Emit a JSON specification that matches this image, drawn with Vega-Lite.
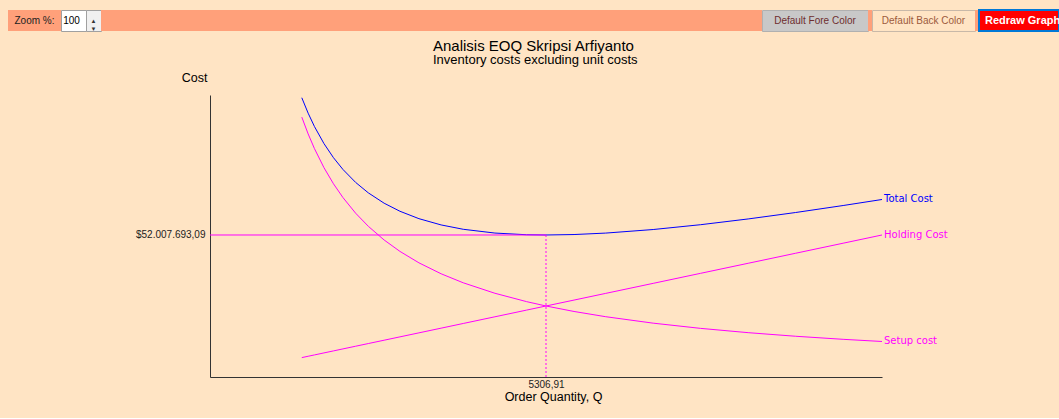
{
  "$schema": "https://vega.github.io/schema/vega-lite/v6.json",
  "background": "#FFE4C4",
  "padding": {"left": 8, "top": 9, "right": 0, "bottom": 15},
  "spacing": 7,
  "config": {
    "font": "Liberation Sans",
    "view": {"stroke": null},
    "locale": {"number": {"decimal": ",", "thousands": ".", "grouping": [3], "currency": ["$", ""]}}
  },
  "datasets": {
    "lines": [
      {"q": 1450, "Total Cost": 102277414, "Holding Cost": 7105000, "Setup cost": 95172414},
      {"q": 1550, "Total Cost": 96627258, "Holding Cost": 7595000, "Setup cost": 89032258},
      {"q": 1650, "Total Cost": 91721364, "Holding Cost": 8085000, "Setup cost": 83636364},
      {"q": 1800, "Total Cost": 85486667, "Holding Cost": 8820000, "Setup cost": 76666667},
      {"q": 1950, "Total Cost": 80324231, "Holding Cost": 9555000, "Setup cost": 70769231},
      {"q": 2100, "Total Cost": 76004286, "Holding Cost": 10290000, "Setup cost": 65714286},
      {"q": 2300, "Total Cost": 71270000, "Holding Cost": 11270000, "Setup cost": 60000000},
      {"q": 2500, "Total Cost": 67450000, "Holding Cost": 12250000, "Setup cost": 55200000},
      {"q": 2750, "Total Cost": 63656818, "Holding Cost": 13475000, "Setup cost": 50181818},
      {"q": 3000, "Total Cost": 60700000, "Holding Cost": 14700000, "Setup cost": 46000000},
      {"q": 3300, "Total Cost": 57988182, "Holding Cost": 16170000, "Setup cost": 41818182},
      {"q": 3650, "Total Cost": 55693219, "Holding Cost": 17885000, "Setup cost": 37808219},
      {"q": 4000, "Total Cost": 54100000, "Holding Cost": 19600000, "Setup cost": 34500000},
      {"q": 4500, "Total Cost": 52716667, "Holding Cost": 22050000, "Setup cost": 30666667},
      {"q": 5000, "Total Cost": 52100000, "Holding Cost": 24500000, "Setup cost": 27600000},
      {"q": 5306.91, "Total Cost": 52007693, "Holding Cost": 26003847, "Setup cost": 26003846},
      {"q": 5750, "Total Cost": 52175000, "Holding Cost": 28175000, "Setup cost": 24000000},
      {"q": 6250, "Total Cost": 52705000, "Holding Cost": 30625000, "Setup cost": 22080000},
      {"q": 7000, "Total Cost": 54014286, "Holding Cost": 34300000, "Setup cost": 19714286},
      {"q": 7750, "Total Cost": 55781452, "Holding Cost": 37975000, "Setup cost": 17806452},
      {"q": 8500, "Total Cost": 57885294, "Holding Cost": 41650000, "Setup cost": 16235294},
      {"q": 9250, "Total Cost": 60243919, "Holding Cost": 45325000, "Setup cost": 14918919},
      {"q": 10000, "Total Cost": 62800000, "Holding Cost": 49000000, "Setup cost": 13800000},
      {"q": 10613.82, "Total Cost": 65009634, "Holding Cost": 52007718, "Setup cost": 13001916}
    ],
    "eoq": [{"q": 5306.91, "cost": 52007693.09}]
  },
  "vconcat": [
    {
      "spacing": 0,
      "bounds": "flush",
      "hconcat": [
        {"width": 53, "height": 21, "view": {"fill": "#FFA07A", "stroke": null},
         "data": {"values": [{"label": "Zoom %:"}]},
         "mark": {"type": "text", "fontSize": 10, "color": "#222222"},
         "encoding": {"text": {"field": "label"}}},
        {"width": 25, "height": 21, "view": {"fill": "#FFFFFF", "stroke": "#A0A0A0"},
         "data": {"values": [{"label": "100"}]},
         "mark": {"type": "text", "fontSize": 10, "color": "#000000", "dx": -2},
         "encoding": {"text": {"field": "label"}}},
        {"width": 15, "height": 21, "view": {"fill": "#F0F0F0", "stroke": "#A0A0A0"},
         "data": {"values": [{"label": "▲\n▼"}]},
         "mark": {"type": "text", "fontSize": 6, "lineBreak": "\n", "lineHeight": 8, "color": "#333333"},
         "encoding": {"text": {"field": "label"}}},
        {"width": 661, "height": 21, "view": {"fill": "#FFA07A", "stroke": null},
         "data": {"values": [{"label": ""}]},
         "mark": {"type": "text"},
         "encoding": {"text": {"field": "label"}}},
        {"width": 106, "height": 21, "view": {"fill": "#C8C8C8", "stroke": "#B0B0B0"},
         "data": {"values": [{"label": "Default Fore Color"}]},
         "mark": {"type": "text", "fontSize": 10, "color": "#6E2E2E"},
         "encoding": {"text": {"field": "label"}}},
        {"width": 4, "height": 21, "view": {"fill": "#FFA07A", "stroke": null},
         "data": {"values": [{"label": ""}]},
         "mark": {"type": "text"},
         "encoding": {"text": {"field": "label"}}},
        {"width": 103, "height": 21, "view": {"fill": "#FFE4C4", "stroke": "#C8B8A8"},
         "data": {"values": [{"label": "Default Back Color"}]},
         "mark": {"type": "text", "fontSize": 10, "color": "#9C5A3C"},
         "encoding": {"text": {"field": "label"}}},
        {"width": 4, "height": 21, "view": {"fill": "#FFA07A", "stroke": null},
         "data": {"values": [{"label": ""}]},
         "mark": {"type": "text"},
         "encoding": {"text": {"field": "label"}}},
        {"width": 80, "height": 21, "view": {"fill": "#FF0000", "stroke": "#0078D7", "strokeWidth": 2},
         "data": {"values": [{"label": "Redraw Graph"}]},
         "mark": {"type": "text", "fontSize": 11, "fontWeight": "bold", "color": "#FFFFFF", "align": "left", "dx": -34},
         "encoding": {"text": {"field": "label"}}}
      ]
    },
    {
      "spacing": 0,
      "bounds": "flush",
      "hconcat": [
        {"width": 202, "height": 282,
         "data": {"values": [{"label": ""}]},
         "mark": {"type": "text"},
         "encoding": {"text": {"field": "label"}}},
        {
          "width": 672,
          "height": 282,
          "title": {
            "text": "Analisis EOQ Skripsi Arfiyanto",
            "subtitle": "Inventory costs excluding unit costs",
            "anchor": "start",
            "frame": "group",
            "dx": 223,
            "offset": 4,
            "font": "Liberation Sans",
            "fontSize": 15,
            "fontWeight": "normal",
            "color": "#000000",
            "subtitleFont": "Liberation Sans",
            "subtitleFontSize": 13,
            "subtitleColor": "#000000",
            "subtitlePadding": 0
          },
          "encoding": {
            "x": {
              "field": "q", "type": "quantitative",
              "scale": {"domain": [0, 10613.82], "nice": false},
              "axis": {
                "values": [5306.91], "format": ".2f",
                "ticks": false, "tickSize": 0, "grid": false,
                "domainColor": "#333333", "labelColor": "#222222",
                "labelFontSize": 10, "labelPadding": 2, "labelFlush": false,
                "title": "Order Quantity, Q", "titleFontSize": 12.5, "titleFontWeight": "normal",
                "titleColor": "#000000", "titleX": 343, "titleY": 23,
                "titleBaseline": "alphabetic", "titleAlign": "center"
              }
            },
            "y": {
              "field": "cost", "type": "quantitative",
              "scale": {"domain": [0, 103280000], "nice": false},
              "axis": {
                "values": [52007693.09], "format": "$,.2f",
                "ticks": false, "tickSize": 0, "grid": false,
                "domainColor": "#333333", "labelColor": "#222222",
                "labelFontSize": 10, "labelPadding": 5,
                "title": "Cost", "titleFontSize": 12.5, "titleFontWeight": "normal",
                "titleColor": "#000000", "titleAngle": 0, "titleAlign": "center",
                "titleBaseline": "alphabetic", "titleX": -16, "titleY": -14
              }
            }
          },
          "layer": [
            {
              "data": {"name": "lines"},
              "transform": [{"fold": ["Total Cost", "Holding Cost", "Setup cost"], "as": ["series", "cost"]}],
              "mark": {"type": "line", "strokeWidth": 1},
              "encoding": {
                "color": {"field": "series", "type": "nominal",
                  "scale": {"domain": ["Total Cost", "Holding Cost", "Setup cost"], "range": ["#0000FF", "#FF00FF", "#FF00FF"]},
                  "legend": null}
              }
            },
            {
              "data": {"name": "lines"},
              "transform": [
                {"fold": ["Total Cost", "Holding Cost", "Setup cost"], "as": ["series", "cost"]},
                {"filter": "datum.q > 10600"}
              ],
              "mark": {"type": "text", "align": "left", "baseline": "middle", "dx": 2, "font": "DejaVu Sans", "fontSize": 10},
              "encoding": {
                "text": {"field": "series"},
                "color": {"field": "series", "type": "nominal",
                  "scale": {"domain": ["Total Cost", "Holding Cost", "Setup cost"], "range": ["#0000FF", "#FF00FF", "#FF00FF"]},
                  "legend": null}
              }
            },
            {
              "data": {"name": "eoq"},
              "mark": {"type": "rule", "color": "#FF00FF", "strokeWidth": 1},
              "encoding": {"x2": {"datum": 0}}
            },
            {
              "data": {"name": "eoq"},
              "mark": {"type": "rule", "color": "#FF00FF", "strokeWidth": 1, "strokeDash": [2, 2]},
              "encoding": {"y2": {"datum": 0}}
            }
          ]
        }
      ]
    }
  ]
}
